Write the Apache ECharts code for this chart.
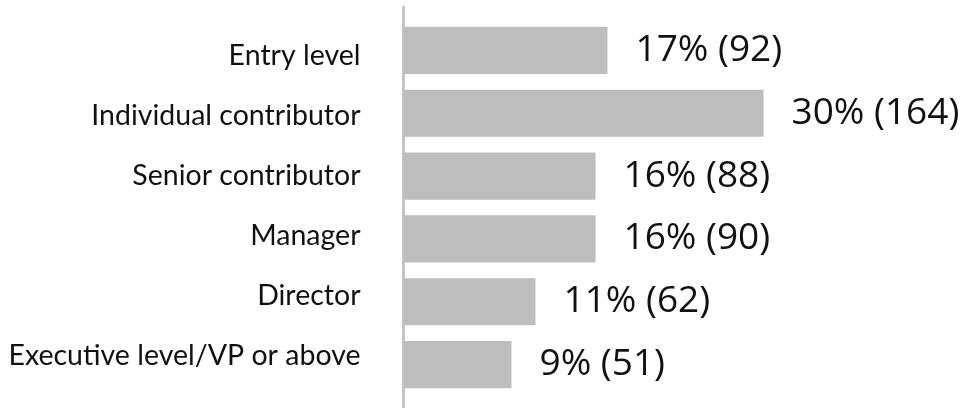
<!DOCTYPE html>
<html>
<head>
<meta charset="utf-8">
<script src="https://cdn.jsdelivr.net/npm/echarts@6/dist/echarts.min.js"></script>
<style>
html,body{margin:0;padding:0;background:#fff;}
#chart{width:960px;height:408px;}
</style>
</head>
<body>
<div id="chart"></div>
<script>
const categories = ["Entry level", "Individual contributor", "Senior contributor", "Manager", "Director", "Executive level/VP or above"];
const percents = [17, 30, 16, 16, 11, 9];
const counts = [92, 164, 88, 90, 62, 51];

const chart = echarts.init(document.getElementById('chart'), null, {renderer: 'canvas'});
const option = {
  animation: false,
  backgroundColor: '#ffffff',
  grid: [
    {left: 403.5, top: 19, height: 377, width: 480},
    {left: 403.5, top: 7, bottom: 0, width: 480},
    {left: 403.5, top: 26, height: 360, width: 480}
  ],
  xAxis: [
    {gridIndex: 0, type: 'value', min: 0, max: 40, show: false},
    {gridIndex: 1, type: 'value', min: 0, max: 40, show: false},
    {gridIndex: 2, type: 'value', min: 0, max: 40, show: false}
  ],
  yAxis: [
    {
      gridIndex: 0,
      type: 'category',
      data: categories,
      inverse: true,
      axisLine: {show: false},
      axisTick: {show: false},
      axisLabel: {show: false}
    },
    {
      gridIndex: 1,
      type: 'category',
      data: [''],
      axisLine: {show: true, lineStyle: {color: '#c4c4c4', width: 3}},
      axisTick: {show: false},
      axisLabel: {show: false}
    },
    {
      gridIndex: 2,
      type: 'category',
      data: categories,
      inverse: true,
      axisLine: {show: false},
      axisTick: {show: false},
      axisLabel: {
        margin: 43,
        fontSize: 28.5,
        fontFamily: 'Lato',
        color: '#111111'
      }
    }
  ],
  series: [{
    type: 'bar',
    xAxisIndex: 0,
    yAxisIndex: 0,
    data: percents,
    barCategoryGap: '25%',
    itemStyle: {color: '#bdbdbd'},
    label: {
      show: true,
      position: 'right',
      distance: 28,
      fontSize: 37,
      fontFamily: 'Open Sans',
      color: '#111111',
      formatter: function (p) { return percents[p.dataIndex] + '% (' + counts[p.dataIndex] + ')'; }
    }
  }]
};
chart.setOption(option);
</script>
</body>
</html>
